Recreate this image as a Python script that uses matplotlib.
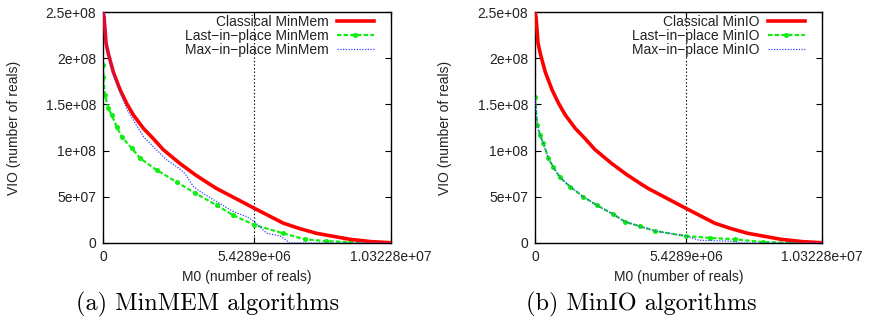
import matplotlib
matplotlib.use("Agg")
import matplotlib.pyplot as plt

# x values in units of 1e6 reals, y values in units of 1e8 reals
x_max = 10.3228
x_split = 5.4289

red_x = [0, 0.036, 0.11, 0.19, 0.37, 0.61, 0.85, 1.09, 1.45, 1.80, 2.16, 2.76, 3.30, 3.78,
         4.07, 5.43, 6.46, 7.06, 7.65, 8.85, 9.6, x_max]
red_y = [2.50, 2.45, 2.16, 2.05, 1.85, 1.66, 1.51, 1.385, 1.24, 1.13, 1.01, 0.86, 0.74, 0.645,
         0.59, 0.375, 0.215, 0.155, 0.105, 0.04, 0.015, 0.003]

mem_last_x = [0, 0.01, 0.07, 0.19, 0.31, 0.49, 0.67, 1.03, 1.33, 1.92, 2.64, 3.30, 4.07, 4.67,
              5.43, 6.46, 7.24, 8.0, 8.85, 9.6, x_max]
mem_last_y = [1.93, 1.80, 1.60, 1.46, 1.385, 1.26, 1.15, 1.025, 0.917, 0.79, 0.66, 0.54, 0.41, 0.30,
              0.195, 0.105, 0.04, 0.02, 0.01, 0.004, 0.0]

mem_max_x = [0, 0.036, 0.11, 0.37, 0.61, 0.85, 1.45, 2.28, 2.76, 2.94, 3.24, 3.47, 3.95, 4.67,
             5.15, 5.43, 5.87, 6.35, 6.70, x_max]
mem_max_y = [2.50, 2.45, 2.16, 1.83, 1.63, 1.45, 1.15, 0.90, 0.80, 0.75, 0.61, 0.56, 0.47, 0.34,
             0.285, 0.23, 0.105, 0.076, 0.0, 0.0]

io_last_x = [0, 0.08, 0.18, 0.30, 0.48, 0.66, 0.90, 1.26, 1.74, 2.22, 2.82, 3.24, 3.78, 4.32,
             5.42, 6.3, 7.19, 8.2, 9.2, x_max]
io_last_y = [1.58, 1.28, 1.17, 1.08, 0.917, 0.82, 0.71, 0.61, 0.50, 0.41, 0.31, 0.23, 0.18, 0.13,
             0.076, 0.055, 0.04, 0.01, 0.003, 0.0]

io_max_x = [0, 0.08, 0.18, 0.30, 0.48, 0.66, 0.90, 1.26, 1.74, 2.22, 2.82, 3.24, 3.78, 4.32,
            5.42, 5.9, 7.0, 7.5, x_max]
io_max_y = [1.58, 1.28, 1.17, 1.08, 0.917, 0.82, 0.71, 0.61, 0.50, 0.41, 0.31, 0.23, 0.18, 0.13,
            0.076, 0.03, 0.02, 0.0, 0.0]

xtick_vals = [0, x_split, x_max]
xtick_labels = ['0', '5.4289e+06', '1.03228e+07']
ytick_vals = [0, 0.5, 1.0, 1.5, 2.0, 2.5]
ytick_labels = ['0', '5e+07', '1e+08', '1.5e+08', '2e+08', '2.5e+08']

panels = [
    ('MinMem', mem_last_x, mem_last_y, mem_max_x, mem_max_y, '(a) MinMEM algorithms'),
    ('MinIO', io_last_x, io_last_y, io_max_x, io_max_y, '(b) MinIO algorithms'),
]

plt.rcParams['font.family'] = ['Liberation Sans', 'DejaVu Sans']
txt = '#222222'

fig = plt.figure(figsize=(8.72, 3.21), dpi=100)
ax_rects = [[103 / 872, 1 - 243 / 321, 288 / 872, 231 / 321],
            [535 / 872, 1 - 243 / 321, 287 / 872, 231 / 321]]
cap_x = [208 / 872, 641 / 872]
ylab_x = [-0.283, -0.290]

for i, (name, lx, ly, mx, my, caption) in enumerate(panels):
    ax = fig.add_axes(ax_rects[i])
    ax.plot(red_x, red_y, color='#ff0000', lw=2.6, label='Classical ' + name, zorder=3)
    ax.plot(lx, ly, color='#11ee11', lw=1.6, ls=(0, (2, 1)), marker='o', ms=2.6,
            mec='#11ee11', label='Last\u2212in\u2212place ' + name, zorder=2)
    ax.plot(mx, my, color='#3344ff', lw=0.9, ls=(0, (1, 1.2)),
            label='Max\u2212in\u2212place ' + name, zorder=4)
    ax.axvline(x_split, color='black', ls=(0, (1.2, 2)), lw=0.8, zorder=1)

    ax.set_xlim(0, x_max)
    ax.set_ylim(0, 2.5)
    ax.set_xticks(xtick_vals, xtick_labels)
    ax.set_yticks(ytick_vals, ytick_labels)
    ax.tick_params(direction='in', length=4, width=0.8, top=True, right=True,
                   labelsize=10, labelcolor=txt, pad=5)
    for s in ax.spines.values():
        s.set_linewidth(1.0)

    ax.set_ylabel('VIO (number of reals)', fontsize=10, color=txt)
    ax.set_xlabel('M0 (number of reals)', fontsize=10, color=txt)
    ax.yaxis.set_label_coords(ylab_x[i], 0.5)
    ax.xaxis.set_label_coords(0.5, -0.118)

    leg = ax.legend(loc='upper right', frameon=False, markerfirst=False, fontsize=10,
                    handlelength=2.7, handletextpad=0.6, labelspacing=0.0,
                    borderaxespad=0.0, borderpad=0.2, bbox_to_anchor=(0.951, 1.0),
                    labelcolor=txt)
    for col in leg._legend_handle_box.get_children():
        col.align = 'right'

    fig.text(cap_x[i], 1 - 304 / 321, caption, ha='center', va='center',
             fontsize=17.5, family='cmr10', color='black')

fig.savefig('out.png', dpi=100)
